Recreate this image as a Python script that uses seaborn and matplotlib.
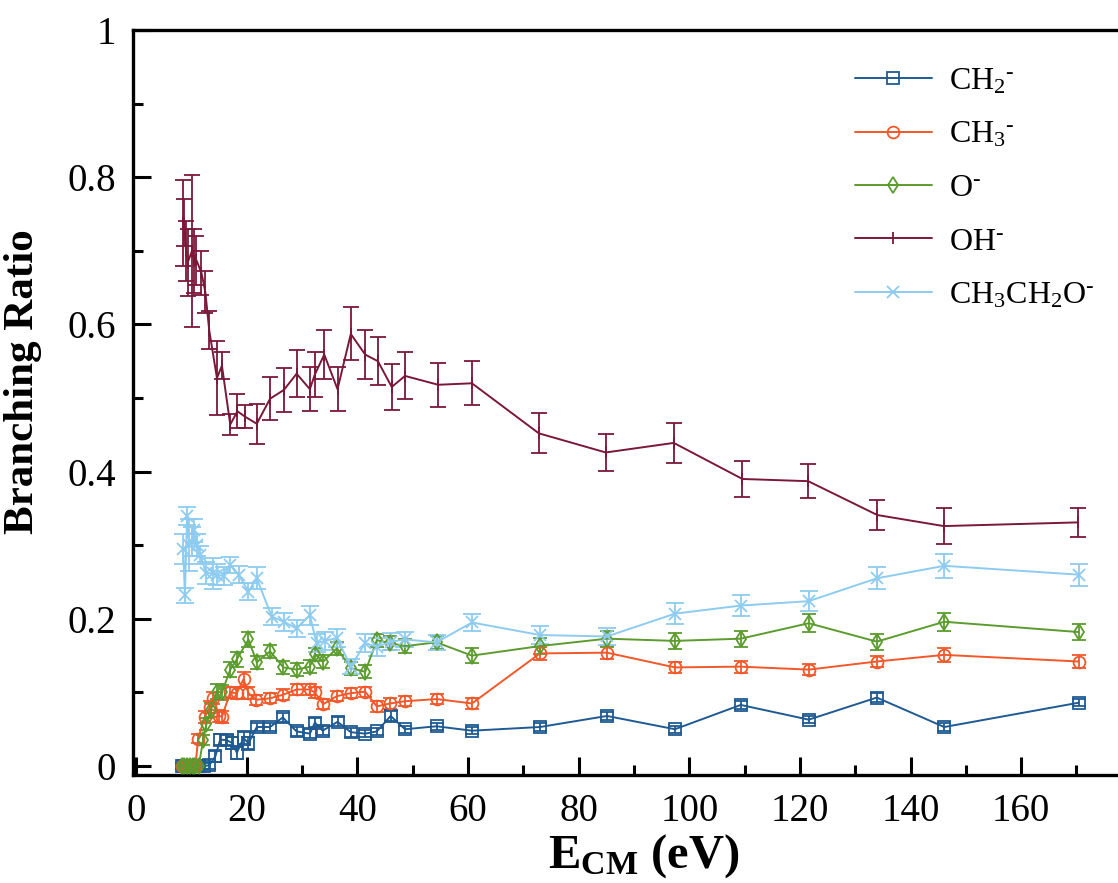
import numpy as np
import pandas as pd
import matplotlib
matplotlib.use("Agg")
import matplotlib.pyplot as plt
import seaborn as sns
from matplotlib.ticker import MultipleLocator, FixedLocator

# ---------------- data ----------------
ch2_x = [8.2, 8.7, 9.2, 9.7, 10.2, 10.7, 11.3, 12.3, 13.2, 14.3, 15.2, 16.4, 17.4,
         18.2, 19.4, 20.3, 21.8, 24.2, 26.5, 29.0, 31.4, 32.3, 33.7, 36.4, 38.8,
         41.4, 43.5, 46.0, 48.6, 54.3, 60.7, 73.0, 85.1, 97.4, 109.3, 121.6,
         133.9, 146.1, 170.4]
ch2_y = [0.0, 0.0, 0.0, 0.0, 0.0, 0.0, 0.0, 0.0, 0.001, 0.013, 0.036, 0.035, 0.031,
         0.018, 0.038, 0.031, 0.053, 0.053, 0.066, 0.047, 0.044, 0.059, 0.048,
         0.060, 0.046, 0.044, 0.047, 0.068, 0.050, 0.054, 0.048, 0.053, 0.068,
         0.050, 0.083, 0.063, 0.093, 0.053, 0.086]
ch2_e = [0.004, 0.004, 0.004, 0.004, 0.004, 0.004, 0.004, 0.004, 0.005, 0.008, 0.007,
         0.007, 0.008, 0.009, 0.009, 0.009, 0.006, 0.006, 0.006, 0.006, 0.006,
         0.006, 0.006, 0.006, 0.006, 0.005, 0.005, 0.007, 0.005, 0.005, 0.005,
         0.005, 0.005, 0.005, 0.005, 0.005, 0.006, 0.005, 0.005]

ch3_x = [8.2, 8.7, 9.2, 9.7, 10.2, 10.7, 11.2, 12.4, 13.3, 13.9, 15.0, 15.5, 17.0,
         18.2, 19.4, 20.3, 21.7, 24.2, 26.6, 29.0, 31.4, 32.3, 33.8, 36.3, 38.8,
         41.4, 43.5, 45.9, 48.6, 54.3, 60.7, 73.0, 85.1, 97.4, 109.3, 121.6,
         133.9, 146.1, 170.4]
ch3_y = [0.0, 0.0, 0.0, 0.0, 0.0, 0.0, 0.037, 0.067, 0.080, 0.092, 0.068, 0.067,
         0.100, 0.099, 0.118, 0.099, 0.090, 0.092, 0.097, 0.104, 0.104, 0.100,
         0.084, 0.095, 0.099, 0.101, 0.081, 0.085, 0.088, 0.091, 0.085, 0.153,
         0.154, 0.134, 0.135, 0.131, 0.142, 0.151, 0.142]
ch3_e = [0.004, 0.004, 0.004, 0.004, 0.004, 0.004, 0.006, 0.008, 0.008, 0.008, 0.008,
         0.008, 0.008, 0.008, 0.010, 0.008, 0.007, 0.007, 0.007, 0.007, 0.007,
         0.007, 0.007, 0.007, 0.007, 0.007, 0.007, 0.007, 0.007, 0.007, 0.007,
         0.009, 0.009, 0.008, 0.008, 0.008, 0.008, 0.009, 0.009]

o_x = [8.2, 8.7, 9.2, 9.7, 10.2, 10.7, 11.3, 12.1, 12.7, 13.5, 14.6, 15.5, 17.0,
       18.2, 20.3, 21.8, 24.2, 26.6, 29.0, 31.4, 32.3, 33.8, 36.3, 38.8, 41.4,
       43.5, 45.9, 48.6, 54.3, 60.7, 73.0, 85.1, 97.4, 109.3, 121.6, 133.9,
       146.1, 170.4]
o_y = [0.0, 0.0, 0.0, 0.0, 0.0, 0.0, 0.0, 0.035, 0.057, 0.076, 0.101, 0.100, 0.131,
       0.145, 0.172, 0.141, 0.156, 0.134, 0.131, 0.135, 0.152, 0.142, 0.160,
       0.133, 0.128, 0.171, 0.167, 0.163, 0.168, 0.150, 0.163, 0.173, 0.170,
       0.173, 0.194, 0.169, 0.196, 0.182]
o_e = [0.004, 0.004, 0.004, 0.004, 0.004, 0.004, 0.004, 0.007, 0.008, 0.009, 0.010,
       0.010, 0.010, 0.010, 0.010, 0.009, 0.009, 0.009, 0.009, 0.009, 0.009,
       0.009, 0.009, 0.009, 0.009, 0.009, 0.009, 0.010, 0.009, 0.010, 0.011,
       0.011, 0.011, 0.011, 0.012, 0.011, 0.012, 0.011]

oh_x = [8.5, 8.7, 9.0, 9.3, 10.1, 10.5, 10.9, 11.8, 12.5, 13.2, 14.6, 15.5, 17.0,
        18.3, 19.6, 21.8, 24.2, 26.7, 29.0, 31.4, 32.3, 34.0, 36.4, 38.8, 41.4,
        43.7, 46.2, 48.6, 54.6, 60.7, 72.8, 84.9, 97.2, 109.6, 121.5, 134.0,
        146.0, 170.2]
oh_y = [0.738, 0.738, 0.700, 0.684, 0.700, 0.686, 0.687, 0.670, 0.644, 0.592, 0.527,
        0.544, 0.464, 0.482, 0.475, 0.465, 0.499, 0.511, 0.533, 0.512, 0.532,
        0.559, 0.512, 0.587, 0.559, 0.550, 0.515, 0.530, 0.518, 0.520, 0.452,
        0.426, 0.439, 0.390, 0.387, 0.341, 0.326, 0.331]
oh_e = [0.058, 0.032, 0.041, 0.046, 0.103, 0.043, 0.033, 0.030, 0.028, 0.026, 0.050,
        0.018, 0.014, 0.023, 0.016, 0.027, 0.029, 0.030, 0.032, 0.030, 0.031,
        0.033, 0.030, 0.036, 0.033, 0.033, 0.031, 0.032, 0.030, 0.030, 0.027,
        0.025, 0.027, 0.025, 0.023, 0.021, 0.024, 0.020]

eto_x = [8.5, 8.8, 9.2, 9.6, 10.0, 10.4, 11.0, 11.6, 12.6, 13.9, 14.6, 15.8, 17.0,
         18.5, 20.3, 21.8, 24.5, 26.7, 29.0, 31.4, 32.6, 34.1, 36.3, 38.8, 41.4,
         43.5, 46.1, 48.6, 54.3, 60.7, 73.0, 85.1, 97.4, 109.3, 121.6, 133.9,
         146.1, 170.4]
eto_y = [0.295, 0.232, 0.340, 0.300, 0.305, 0.320, 0.300, 0.287, 0.262, 0.262, 0.260,
         0.258, 0.273, 0.260, 0.237, 0.255, 0.203, 0.196, 0.187, 0.205, 0.167,
         0.170, 0.174, 0.135, 0.167, 0.162, 0.169, 0.172, 0.168, 0.195, 0.178,
         0.176, 0.207, 0.218, 0.224, 0.255, 0.272, 0.260]
eto_e = [0.020, 0.010, 0.012, 0.035, 0.020, 0.015, 0.015, 0.012, 0.015, 0.021, 0.014,
         0.012, 0.011, 0.012, 0.012, 0.015, 0.012, 0.012, 0.012, 0.013, 0.012,
         0.012, 0.012, 0.010, 0.012, 0.012, 0.012, 0.010, 0.010, 0.011, 0.012,
         0.012, 0.014, 0.014, 0.014, 0.015, 0.016, 0.015]

labels = [r"CH$_2$$^{\text{-}}$", r"CH$_3$$^{\text{-}}$", r"O$^{\text{-}}$",
          r"OH$^{\text{-}}$", r"CH$_3$CH$_2$O$^{\text{-}}$"]
colors = ["#1f5a92", "#f2582a", "#5c9c2e", "#7a1838", "#8ecbf0"]
markers = ["s", "o", "d", "|", "x"]
xs = [ch2_x, ch3_x, o_x, oh_x, eto_x]
ys = [ch2_y, ch3_y, o_y, oh_y, eto_y]
es = [ch2_e, ch3_e, o_e, oh_e, eto_e]
x_ticks = [0, 20, 40, 60, 80, 100, 120, 140, 160]
y_ticks = [0, 0.2, 0.4, 0.6, 0.8, 1.0]
y_ticklabels = ["0", "0.2", "0.4", "0.6", "0.8", "1"]

# ---------------- style ----------------
sns.set_theme(style="ticks")
plt.rcParams["font.family"] = ["Liberation Serif", "DejaVu Serif"]
plt.rcParams["mathtext.fontset"] = "custom"
plt.rcParams["mathtext.rm"] = "Liberation Serif"
plt.rcParams["mathtext.it"] = "Liberation Serif:italic"
plt.rcParams["mathtext.bf"] = "Liberation Serif:bold"
plt.rcParams["text.color"] = "black"
plt.rcParams["axes.labelcolor"] = "black"
plt.rcParams["xtick.color"] = "black"
plt.rcParams["ytick.color"] = "black"

W, H = 1118, 883
fig = plt.figure(figsize=(W / 100, H / 100), dpi=100)
ax_l, ax_r, ax_t, ax_b = 133, 1155, 30, 775
ax = fig.add_axes([ax_l / W, (H - ax_b) / H, (ax_r - ax_l) / W, (ax_b - ax_t) / H])

capsizes = [5, 5, 5, 5.5, 6.5]
for lab, c, m, x, y, e, cs in zip(labels, colors, markers, xs, ys, es, capsizes):
    ax.errorbar(x, y, yerr=e, fmt="none", ecolor=c, elinewidth=1.3,
                capsize=cs, capthick=1.3, zorder=2)
    sns.lineplot(x=x, y=y, ax=ax, color=c, marker=m, markersize=8.5,
                 markerfacecolor="none", markeredgecolor=c, markeredgewidth=1.3,
                 linewidth=1.4, estimator=None, sort=False, label=lab, zorder=3)

ax.set_xlim(-0.58, 184.2)
ax.set_ylim(-0.0122, 1.0)
ax.xaxis.set_major_locator(FixedLocator(x_ticks))
ax.xaxis.set_minor_locator(MultipleLocator(10))
ax.set_yticks(y_ticks)
ax.set_yticklabels(y_ticklabels)
ax.yaxis.set_minor_locator(MultipleLocator(0.1))

for s in ["left", "bottom", "top"]:
    ax.spines[s].set_linewidth(2.4)
    ax.spines[s].set_color("black")
ax.spines["right"].set_visible(False)
ax.tick_params(which="major", direction="in", length=13, width=2.2,
               labelsize=28, colors="black", top=False, right=False, pad=12)
ax.tick_params(which="minor", direction="in", length=7, width=2.2,
               top=False, right=False)
ax.tick_params(axis="x", which="major", pad=13)

ax.set_xlabel(r"$\mathbf{E}_{\mathbf{CM}}$ (eV)", fontsize=35, fontweight="bold",
              color="black")
ax.xaxis.set_label_coords(0.5, -0.077)
ax.set_ylabel("Branching Ratio", fontsize=31, fontweight="bold", color="black")
ax.yaxis.set_label_coords(-0.089, 0.5275)

leg = ax.legend(loc="upper left", bbox_to_anchor=(855 / W, 1 - 67 / H),
                bbox_transform=fig.transFigure, frameon=False, fontsize=23,
                handlelength=2.4, handletextpad=0.55, labelspacing=0.75,
                borderpad=0, borderaxespad=0, labelcolor="black")

fig.savefig("out.png", dpi=100)
